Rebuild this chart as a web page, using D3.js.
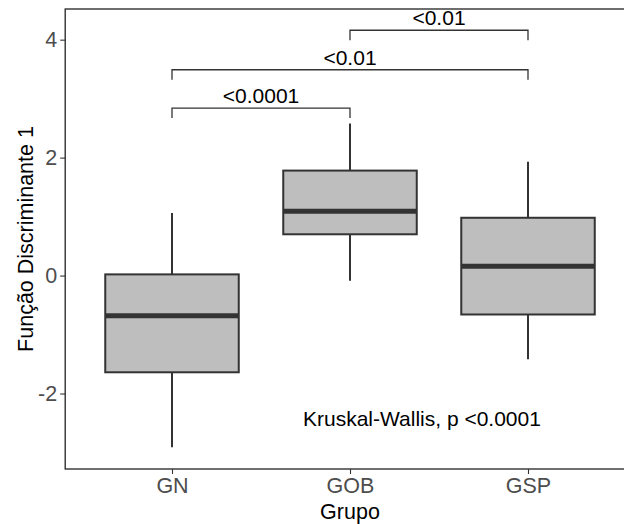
<!DOCTYPE html>
<html>
<head>
<meta charset="utf-8">
<script src="https://cdn.jsdelivr.net/npm/d3@7"></script>
<style>
  html, body { margin: 0; padding: 0; background: #fff; }
  svg { display: block; font-family: "Liberation Sans", Arial, sans-serif; }
</style>
</head>
<body>
<div id="chart"></div>
<script>
// --- data ---
const groups = ["GN", "GOB", "GSP"];
const whiskerLow = [-2.91, -0.09, -1.42];
const q1 = [-1.64, 0.70, -0.66];
const medians = [-0.68, 1.09, 0.16];
const q3 = [0.02, 1.78, 0.98];
const whiskerHigh = [1.06, 2.58, 1.93];

const yTicks = [-2, 0, 2, 4];

// pairwise comparisons (brackets)
const pairFrom = ["GN", "GN", "GOB"];
const pairTo = ["GOB", "GSP", "GSP"];
const pairY = [2.84, 3.49, 4.16];
const pairLabels = ["<0.0001", "<0.01", "<0.01"];

const globalTest = "Kruskal-Wallis, p <0.0001";

// --- dimensions ---
const W = 624, H = 524;
const panel = { top: 9, bottom: 469 };

const x = d3.scalePoint().domain(groups).range([172, 528]);
const step = x.step();
const panelLeft = x(groups[0]) - 0.6 * step;
const panelRight = x(groups[groups.length - 1]) + 0.6 * step;
const y = d3.scaleLinear().domain([-3.28, 4.52]).range([panel.bottom, panel.top]);

const svg = d3.select('#chart').append('svg')
    .attr('width', W).attr('height', H);
svg.append('rect').attr('width', W).attr('height', H).attr('fill', '#fff');

const boxes = groups.map((g, i) => ({
    g, lo: whiskerLow[i], q1: q1[i], med: medians[i], q3: q3[i], hi: whiskerHigh[i]
}));
const bw = 0.75 * step;

// --- boxes ---
const bg = svg.append('g');
boxes.forEach(b => {
    const cx = x(b.g);
    bg.append('line').attr('x1', cx).attr('x2', cx)
        .attr('y1', y(b.q3)).attr('y2', y(b.hi))
        .attr('stroke', '#333').attr('stroke-width', 2);
    bg.append('line').attr('x1', cx).attr('x2', cx)
        .attr('y1', y(b.q1)).attr('y2', y(b.lo))
        .attr('stroke', '#333').attr('stroke-width', 2);
    bg.append('rect')
        .attr('x', cx - bw / 2).attr('width', bw)
        .attr('y', y(b.q3)).attr('height', y(b.q1) - y(b.q3))
        .attr('fill', '#bebebe').attr('stroke', '#333').attr('stroke-width', 2);
    bg.append('line')
        .attr('x1', cx - bw / 2).attr('x2', cx + bw / 2)
        .attr('y1', y(b.med)).attr('y2', y(b.med))
        .attr('stroke', '#333').attr('stroke-width', 5);
});

// --- brackets ---
const tickLen = 0.17;
const br = svg.append('g');
pairY.forEach((v, i) => {
    const x1 = x(pairFrom[i]), x2 = x(pairTo[i]);
    br.append('path')
        .attr('d', `M${x1},${y(v - tickLen)}V${y(v)}H${x2}V${y(v - tickLen)}`)
        .attr('fill', 'none').attr('stroke', '#333').attr('stroke-width', 1.3);
    br.append('text')
        .attr('x', (x1 + x2) / 2).attr('y', y(v) - 5)
        .attr('text-anchor', 'middle')
        .attr('font-size', 21).attr('fill', '#000')
        .text(pairLabels[i]);
});

// --- global test label ---
svg.append('text')
    .attr('x', x("GOB") - 47).attr('y', y(-2.55))
    .attr('font-size', 21).attr('fill', '#000')
    .text(globalTest);

// --- panel border ---
svg.append('rect')
    .attr('x', panelLeft).attr('y', panel.top)
    .attr('width', panelRight - panelLeft).attr('height', panel.bottom - panel.top)
    .attr('fill', 'none').attr('stroke', '#222').attr('stroke-width', 1.3);

// --- axes ---
const yAxis = svg.append('g')
    .attr('transform', `translate(${panelLeft},0)`)
    .call(d3.axisLeft(y).tickValues(yTicks).tickFormat(d => String(d)).tickSize(5).tickPadding(3));
yAxis.select('.domain').remove();
yAxis.selectAll('line').attr('stroke', '#333').attr('stroke-width', 1.1);
yAxis.selectAll('text').attr('font-size', 21.5).attr('fill', '#4d4d4d')
    .attr('font-family', '"Liberation Sans", Arial, sans-serif');

const xAxis = svg.append('g')
    .attr('transform', `translate(0,${panel.bottom})`)
    .call(d3.axisBottom(x).tickSize(5).tickPadding(4));
xAxis.select('.domain').remove();
xAxis.selectAll('line').attr('stroke', '#333').attr('stroke-width', 1.1);
xAxis.selectAll('text').attr('font-size', 21.5).attr('fill', '#4d4d4d')
    .attr('font-family', '"Liberation Sans", Arial, sans-serif');

// --- titles ---
svg.append('text')
    .attr('x', x("GOB")).attr('y', 519)
    .attr('text-anchor', 'middle').attr('font-size', 21.5).attr('fill', '#000')
    .text('Grupo');
svg.append('text')
    .attr('transform', `translate(33,${(panel.top + panel.bottom) / 2}) rotate(-90)`)
    .attr('text-anchor', 'middle').attr('font-size', 21.5).attr('fill', '#000')
    .text('Função Discriminante 1');
</script>
</body>
</html>
